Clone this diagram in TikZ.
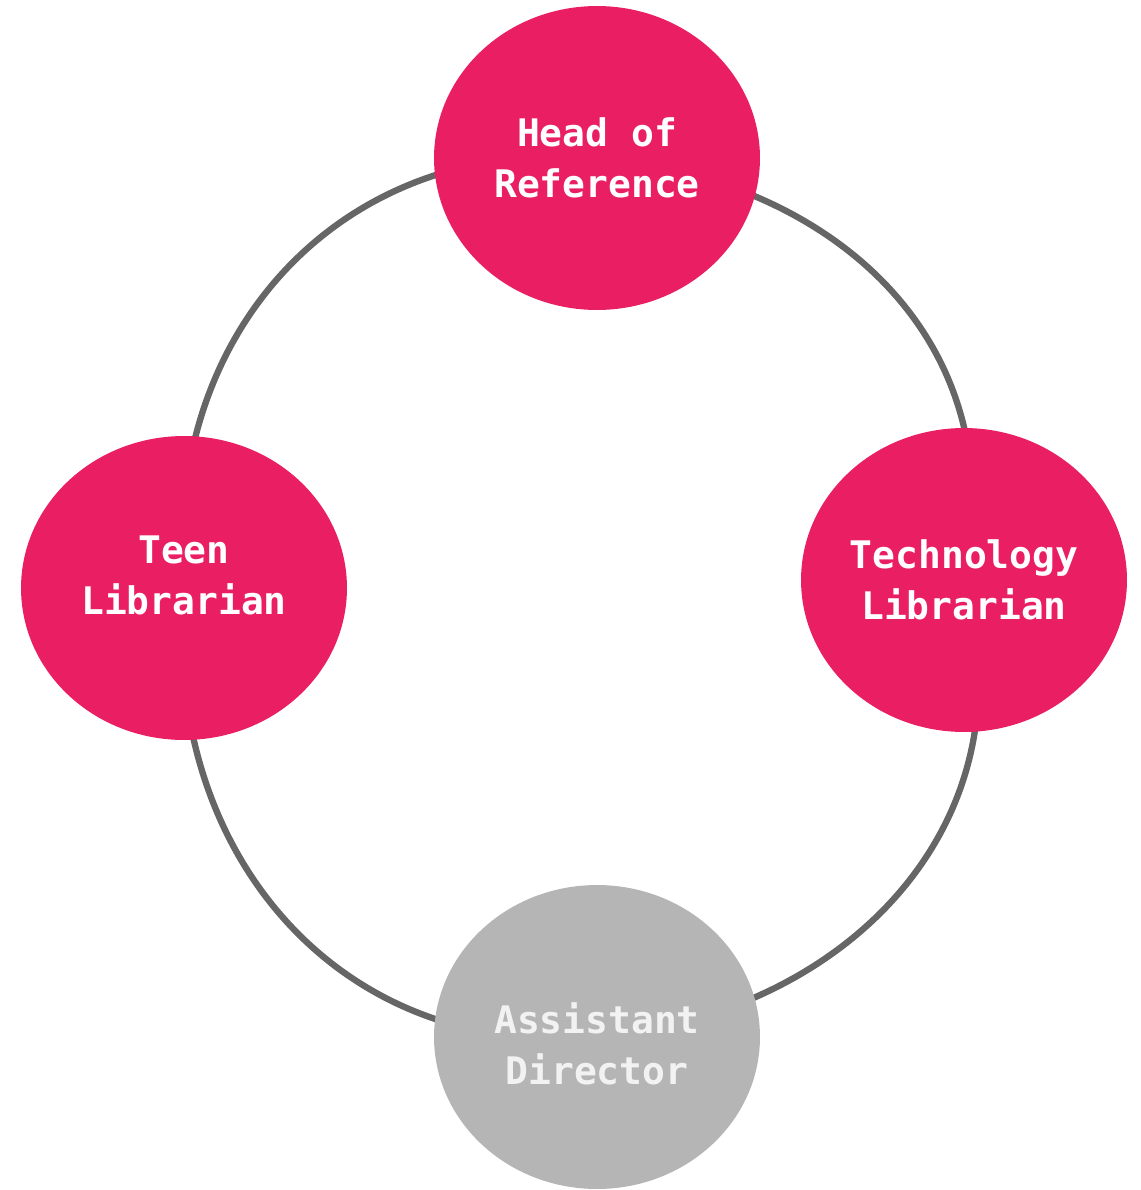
\documentclass[tikz,border=0pt]{standalone}
\usepackage{fontspec}
\setmonofont{DejaVu Sans Mono}
\usepackage{tikz}
\usetikzlibrary{shapes.geometric,backgrounds}
\definecolor{rolepink}{HTML}{E91E63}
\definecolor{rolegray}{HTML}{B5B5B5}
\definecolor{ringgray}{HTML}{666666}
\definecolor{softwhite}{HTML}{F2F2F2}

\begin{document}
\begin{tikzpicture}[x=0.02cm,y=-0.02cm,
    role/.style={ellipse,fill=rolepink,minimum width=6.52cm,minimum height=6.08cm,inner sep=0pt,
        align=center,text=white,font=\ttfamily\bfseries\fontsize{21.6}{29}\selectfont},
    ring/.style={draw=ringgray,line width=3.6pt,looseness=1.1}]
    \useasboundingbox (0,0) rectangle (1140,1190);

    \node[role] (head) at (597,158) {Head of\\Reference};
    \node[role] (tech) at (964,580) {Technology\\Librarian};
    \node[role,fill=rolegray,text=softwhite] (asst) at (597,1037)
        {\raisebox{-0.41cm}[0pt][0pt]{\begin{tabular}{@{}c@{}}Assistant\\Director\end{tabular}}};
    \node[role] (teen) at (184,588)
        {\raisebox{0pt}[0pt][0pt]{\begin{tabular}{@{}c@{}}Teen\\Librarian\end{tabular}}};

    \begin{scope}[on background layer]
        \draw[ring] (head.center) to[out=-5,in=78] (tech.center);
        \draw[ring] (tech.center) to[out=-74,in=5] (asst.center);
        \draw[ring] (asst.center) to[out=185,in=-95] (teen.center);
        \draw[ring] (teen.center) to[out=95,in=175] (head.center);
    \end{scope}
\end{tikzpicture}
\end{document}
